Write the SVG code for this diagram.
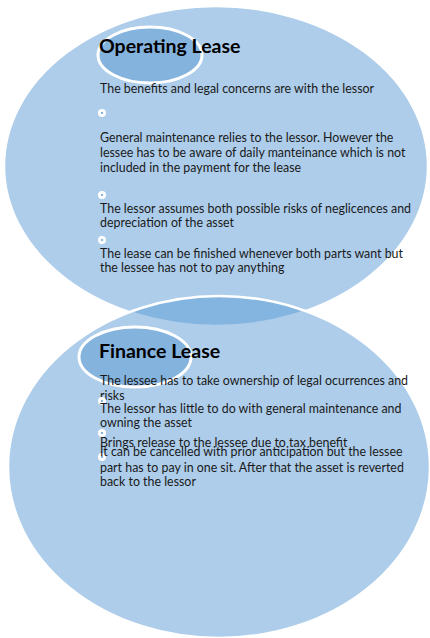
<svg xmlns="http://www.w3.org/2000/svg" width="430" height="638" viewBox="0 0 430 638">
  <style>
    .big { fill: #5B9BD5; fill-opacity: 0.5; stroke: #FFFFFF; stroke-width: 2.5; }
    .cap { fill: #84B3DE; stroke: #FFFFFF; stroke-width: 3; }
    .title { font-family: Lato, "Open Sans", sans-serif; font-weight: bold; font-size: 19.5px; fill: #000000; }
    .body { font-family: Lato, "Open Sans", sans-serif; font-size: 12.4px; fill: #1A1A1A; }
    .dot { fill: #FFFFFF; }
    .pip { fill: #5B9BD5; }
  </style>
  <defs>
    <g id="bullet">
      <circle class="dot" r="4"/>
      <circle class="pip" r="1"/>
    </g>
  </defs>

  <!-- large circles -->
  <g id="operating-circle">
    <ellipse class="big" cx="216" cy="166" rx="212" ry="160"/>
  </g>
  <g id="finance-circle">
    <ellipse class="big" cx="219" cy="467" rx="211" ry="171"/>
  </g>

  <g id="connectors"></g>

  <!-- Operating lease -->
  <g id="operating-lease">
    <ellipse class="cap" cx="150" cy="55" rx="52" ry="28"/>
    <text class="title" x="99" y="53">Operating Lease</text>
    <text class="body" x="100" y="93">The benefits and legal concerns are with the lessor</text>
    <use href="#bullet" x="102" y="113"/>
    <text class="body" x="100" y="142">General maintenance relies to the lessor. However the</text>
    <text class="body" x="100" y="157">lessee has to be aware of daily manteinance which is not</text>
    <text class="body" x="100" y="172">included in the payment for the lease</text>
    <use href="#bullet" x="102" y="195"/>
    <text class="body" x="100" y="213">The lessor assumes both possible risks of neglicences and</text>
    <text class="body" x="100" y="227">depreciation of the asset</text>
    <use href="#bullet" x="102" y="240"/>
    <text class="body" x="100" y="258">The lease can be finished whenever both parts want but</text>
    <text class="body" x="100" y="272">the lessee has not to pay anything</text>
  </g>

  <!-- Finance lease -->
  <g id="finance-lease">
    <ellipse class="cap" cx="135" cy="357" rx="56" ry="30"/>
    <text class="title" x="99" y="358">Finance Lease</text>
    <text class="body" x="100" y="385">The lessee has to take ownership of legal ocurrences and</text>
    <text class="body" x="100" y="400">risks</text>
    <use href="#bullet" x="102" y="401"/>
    <text class="body" x="100" y="413">The lessor has little to do with general maintenance and</text>
    <text class="body" x="100" y="427">owning the asset</text>
    <use href="#bullet" x="102" y="433"/>
    <text class="body" x="100" y="447">Brings release to the lessee due to tax benefit</text>
    <use href="#bullet" x="102" y="457"/>
    <text class="body" x="100" y="456">It can be cancelled with prior anticipation but the lessee</text>
    <text class="body" x="100" y="472">part has to pay in one sit. After that the asset is reverted</text>
    <text class="body" x="100" y="486">back to the lessor</text>
  </g>
</svg>
